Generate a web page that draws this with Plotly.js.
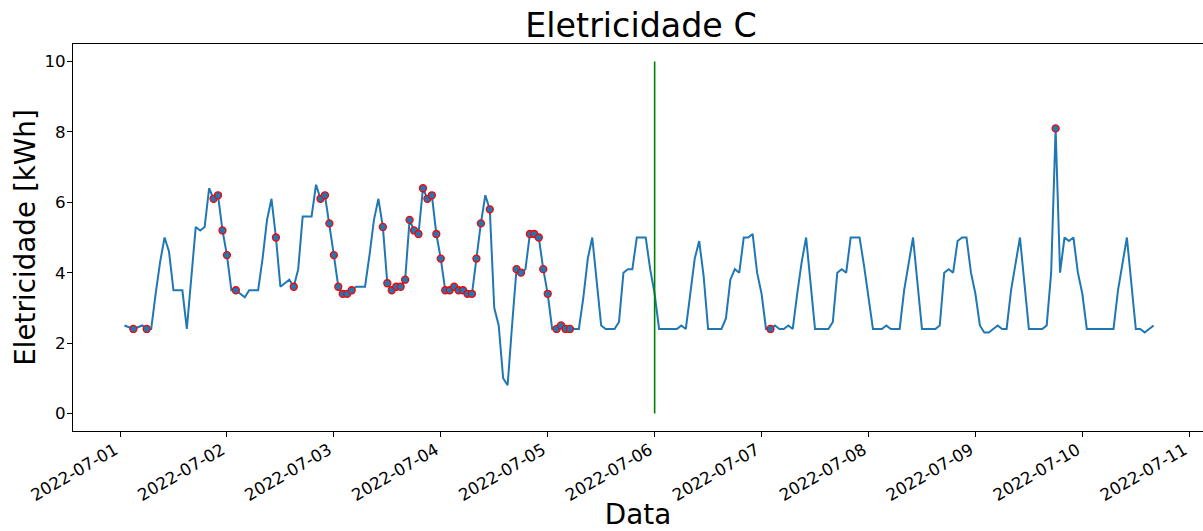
<!DOCTYPE html>
<html>
<head>
<meta charset="utf-8">
<script src="https://cdn.plot.ly/plotly-3.0.1.min.js"></script>
<style>
  html, body { margin: 0; padding: 0; background: #fff; }
  #grafico { width: 1203px; height: 531px; }
</style>
</head>
<body>
<div id="grafico"></div>
<script>
// Hourly electricity consumption (kWh), starting 2022-07-01 01:00, one row per day
const inicio = { ano: 2022, mes: 7, dia: 1, hora: 1 };
const consumo = [
  2.5, 2.45, 2.4, 2.45, 2.5, 2.4, 2.4, 3.4, 4.3, 5.0, 4.6, 3.5, 3.5, 3.5, 2.4, 3.9, 5.3, 5.2, 5.3, 6.4, 6.1, 6.2, 5.2, 4.5,
  3.5, 3.5, 3.4, 3.3, 3.5, 3.5, 3.5, 4.4, 5.5, 6.1, 5.0, 3.6, 3.7, 3.8, 3.6, 4.1, 5.6, 5.6, 5.6, 6.5, 6.1, 6.2, 5.4, 4.5,
  3.6, 3.4, 3.4, 3.5, 3.6, 3.6, 3.6, 4.5, 5.5, 6.1, 5.3, 3.7, 3.5, 3.6, 3.6, 3.8, 5.5, 5.2, 5.1, 6.4, 6.1, 6.2, 5.1, 4.4,
  3.5, 3.5, 3.6, 3.5, 3.5, 3.4, 3.4, 4.4, 5.4, 6.2, 5.8, 3.0, 2.5, 1.0, 0.8, 2.5, 4.1, 4.0, 4.1, 5.1, 5.1, 5.0, 4.1, 3.4,
  2.4, 2.4, 2.5, 2.4, 2.4, 2.4, 2.4, 3.3, 4.4, 5.0, 3.7, 2.5, 2.4, 2.4, 2.4, 2.6, 4.0, 4.1, 4.1, 5.0, 5.0, 5.0, 4.1, 3.4,
  2.4, 2.4, 2.4, 2.4, 2.4, 2.5, 2.4, 3.4, 4.4, 4.9, 3.9, 2.4, 2.4, 2.4, 2.4, 2.7, 3.8, 4.1, 4.0, 5.0, 5.0, 5.1, 4.0, 3.4,
  2.4, 2.4, 2.5, 2.4, 2.4, 2.5, 2.4, 3.4, 4.3, 5.0, 3.8, 2.4, 2.4, 2.4, 2.4, 2.6, 4.0, 4.1, 4.0, 5.0, 5.0, 5.0, 4.2, 3.3,
  2.4, 2.4, 2.4, 2.5, 2.4, 2.4, 2.4, 3.5, 4.3, 5.0, 3.7, 2.4, 2.4, 2.4, 2.4, 2.5, 4.0, 4.1, 4.0, 4.9, 5.0, 5.0, 4.0, 3.4,
  2.5, 2.3, 2.3, 2.4, 2.5, 2.4, 2.4, 3.5, 4.3, 5.0, 3.7, 2.4, 2.4, 2.4, 2.4, 2.5, 4.0, 8.1, 4.0, 5.0, 4.9, 5.0, 4.0, 3.4,
  2.4, 2.4, 2.4, 2.4, 2.4, 2.4, 2.4, 3.5, 4.3, 5.0, 3.7, 2.4, 2.4, 2.3, 2.4, 2.5
];

// Positions (index into consumo) of the highlighted readings
const destaques = [
  2, 5, 20, 21, 22, 23, 25, 34, 38, 44, 45, 46, 47, 48, 49, 50, 51,
  58, 59, 60, 61, 62, 63, 64, 65, 66, 67, 68, 69, 70, 71, 72, 73, 74, 75, 76, 77, 78, 79, 80,
  82, 88, 89, 91, 92, 93, 94, 95, 97, 98, 99, 100, 145, 209
];

// Vertical reference line
const divisaoData = '2022-07-06 00:00';
const divisaoY = [0, 10];

// Tick labels for the value axis
const yTicks = [0, 2, 4, 6, 8, 10];

function pad(n) { return String(n).padStart(2, '0'); }
function horario(i) {
  const h = inicio.hora + i;
  const dia = inicio.dia + Math.floor(h / 24);
  return inicio.ano + '-' + pad(inicio.mes) + '-' + pad(dia) + ' ' + pad(h % 24) + ':00';
}

const datas = consumo.map((_, i) => horario(i));
const datasDestaque = destaques.map(i => datas[i]);
const valoresDestaque = destaques.map(i => consumo[i]);

const azul = '#1f77b4';
const fonte = 'DejaVu Sans, Liberation Sans, sans-serif';

const traces = [
  {
    x: datas, y: consumo, type: 'scatter', mode: 'lines',
    line: { color: azul, width: 2 }, hoverinfo: 'x+y'
  },
  {
    x: datasDestaque, y: valoresDestaque, type: 'scatter', mode: 'markers',
    marker: { color: azul, size: 7, line: { color: '#ff0000', width: 1.3 } }
  },
  {
    x: [divisaoData, divisaoData], y: divisaoY, type: 'scatter', mode: 'lines',
    line: { color: '#008000', width: 1.6 }
  }
];

const layout = {
  width: 1203, height: 531,
  margin: { l: 73, r: 0, t: 44, b: 100, pad: 0 },
  paper_bgcolor: '#ffffff', plot_bgcolor: '#ffffff',
  showlegend: false,
  font: { family: fonte, color: '#000' },
  title: {
    text: 'Eletricidade C',
    font: { family: fonte, size: 33.3, color: '#000' },
    xref: 'container', x: 641 / 1203, xanchor: 'center',
    yref: 'container', y: 1 - 25 / 531, yanchor: 'middle'
  },
  xaxis: {
    type: 'date',
    range: ['2022-06-30 13:27', '2022-07-11 03:05'],
    tick0: '2022-07-01', dtick: 86400000, tickformat: '%Y-%m-%d',
    tickangle: -30,
    ticklabelshift: -5, ticklabelstandoff: -3,
    ticks: 'outside', ticklen: 5, tickwidth: 1, tickcolor: '#000',
    showline: true, linecolor: '#000', linewidth: 1, mirror: true,
    showgrid: false, zeroline: false,
    tickfont: { family: fonte, size: 16.7, color: '#000' },
    automargin: false,
    title: { text: 'Data', font: { family: fonte, size: 27.8, color: '#000' }, standoff: 12 }
  },
  yaxis: {
    range: [-0.5, 10.5],
    tickvals: yTicks, ticktext: yTicks.map(String),
    ticks: 'outside', ticklen: 5, tickwidth: 1, tickcolor: '#000',
    ticklabelstandoff: -2,
    showline: true, linecolor: '#000', linewidth: 1, mirror: false,
    showgrid: false, zeroline: false,
    tickfont: { family: fonte, size: 16.7, color: '#000' },
    automargin: false,
    title: { text: 'Eletricidade [kWh]', font: { family: fonte, size: 27.8, color: '#000' }, standoff: 0 }
  }
};

Plotly.newPlot('grafico', traces, layout, { staticPlot: true, displayModeBar: false });
</script>
</body>
</html>
